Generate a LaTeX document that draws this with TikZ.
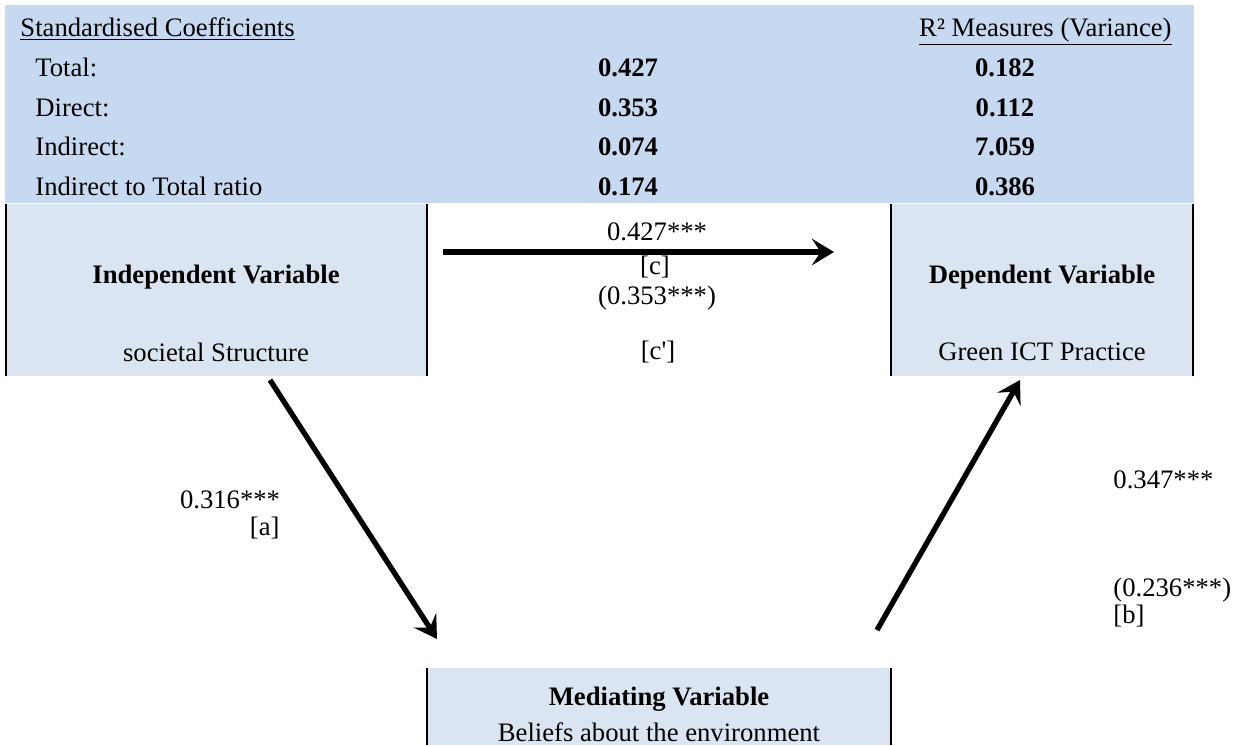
\documentclass[tikz,border=0pt]{standalone}
\usepackage{fontspec}
\setmainfont{Liberation Serif}
\usetikzlibrary{arrows.meta}
\definecolor{hdrblue}{HTML}{C6D9F1}
\definecolor{boxblue}{HTML}{DBE5F1}
\begin{document}
\begin{tikzpicture}[x=0.45pt,y=-0.45pt,
  txt/.style={font=\fontsize{12}{14}\selectfont, inner sep=0pt},
  btxt/.style={font=\fontsize{12}{14}\selectfont\bfseries, inner sep=0pt},
  varbox/.style={fill=boxblue, draw=none, inner sep=0pt},
  side/.style={draw=black, line width=0.9pt},
  effect/.style={line width=2.4pt, -{Stealth[length=10pt,width=12pt,inset=4pt]}}
]
\useasboundingbox (0,0) rectangle (1243,745);
% header table
\node[fill=hdrblue, inner sep=0pt, minimum width=535.05pt, minimum height=89.1pt] (hdr) at (599.5,104) {};
\node[txt, anchor=base west] (hsc) at (20,36) {\underline{Standardised Coefficients}};
\node[txt, anchor=base east] (hr2) at (1172,36) {\underline{R² Measures (Variance)}};
\node[txt, anchor=base west] (lt) at (35,76) {Total:};
\node[txt, anchor=base west] (ld) at (35,116) {Direct:};
\node[txt, anchor=base west] (li) at (35,155) {Indirect:};
\node[txt, anchor=base west] (lr) at (35,195) {Indirect to Total ratio};
\node[btxt, anchor=base] (vt) at (628,76) {0.427};
\node[btxt, anchor=base] (vd) at (628,116) {0.353};
\node[btxt, anchor=base] (vi) at (628,155) {0.074};
\node[btxt, anchor=base] (vr) at (628,195) {0.174};
\node[btxt, anchor=base] (rt) at (1005,76) {0.182};
\node[btxt, anchor=base] (rd) at (1005,116) {0.112};
\node[btxt, anchor=base] (ri) at (1005,155) {7.059};
\node[btxt, anchor=base] (rr) at (1005,195) {0.386};
% variable boxes
\node[varbox, minimum width=189.45pt, minimum height=77.4pt] (iv) at (216.5,290) {};
\draw[side] (iv.north west) -- (iv.south west) (iv.north east) -- (iv.south east);
\node[btxt] (ivt) at (216,277) {Independent Variable};
\node[txt] (ivs) at (216,352) {societal Structure};
\node[varbox, minimum width=135.9pt, minimum height=77.4pt] (dv) at (1042,290) {};
\draw[side] (dv.north west) -- (dv.south west) (dv.north east) -- (dv.south east);
\node[btxt] (dvt) at (1042,277) {Dependent Variable};
\node[txt] (dvs) at (1042,352) {Green ICT Practice};
\node[varbox, minimum width=208.8pt, minimum height=34.65pt] (mv) at (659,706.5) {};
\draw[side] (mv.north west) -- (mv.south west) (mv.north east) -- (mv.south east);
\node[btxt] (mvt) at (659,699) {Mediating Variable};
\node[txt] (mvs) at (659,732) {Beliefs about the environment};
% paths
\coordinate (c1) at (443,252);
\coordinate (c2) at (834,252);
\draw[effect] (c1) -- (c2);
\node[txt] (lc1) at (657,232) {0.427***};
\node[txt] (lc2) at (655,267) {[c]};
\node[txt] (lc3) at (657,298) {(0.353***)};
\node[txt] (lc4) at (658,352) {[c\textquotesingle]};
\coordinate (a1) at (270,380);
\coordinate (a2) at (437,639);
\draw[effect] (a1) -- (a2);
\node[txt] (la1) at (230,500) {0.316***};
\node[txt, anchor=east] (la2) at (280,528) {[a]};
\coordinate (b1) at (877,630);
\coordinate (b2) at (1020,380);
\draw[effect] (b1) -- (b2);
\node[txt, anchor=west] (lb1) at (1113,480) {0.347***};
\node[txt, anchor=west] (lb2) at (1113,590) {(0.236***)};
\node[txt, anchor=west] (lb3) at (1113,616) {[b]};
\end{tikzpicture}
\end{document}
